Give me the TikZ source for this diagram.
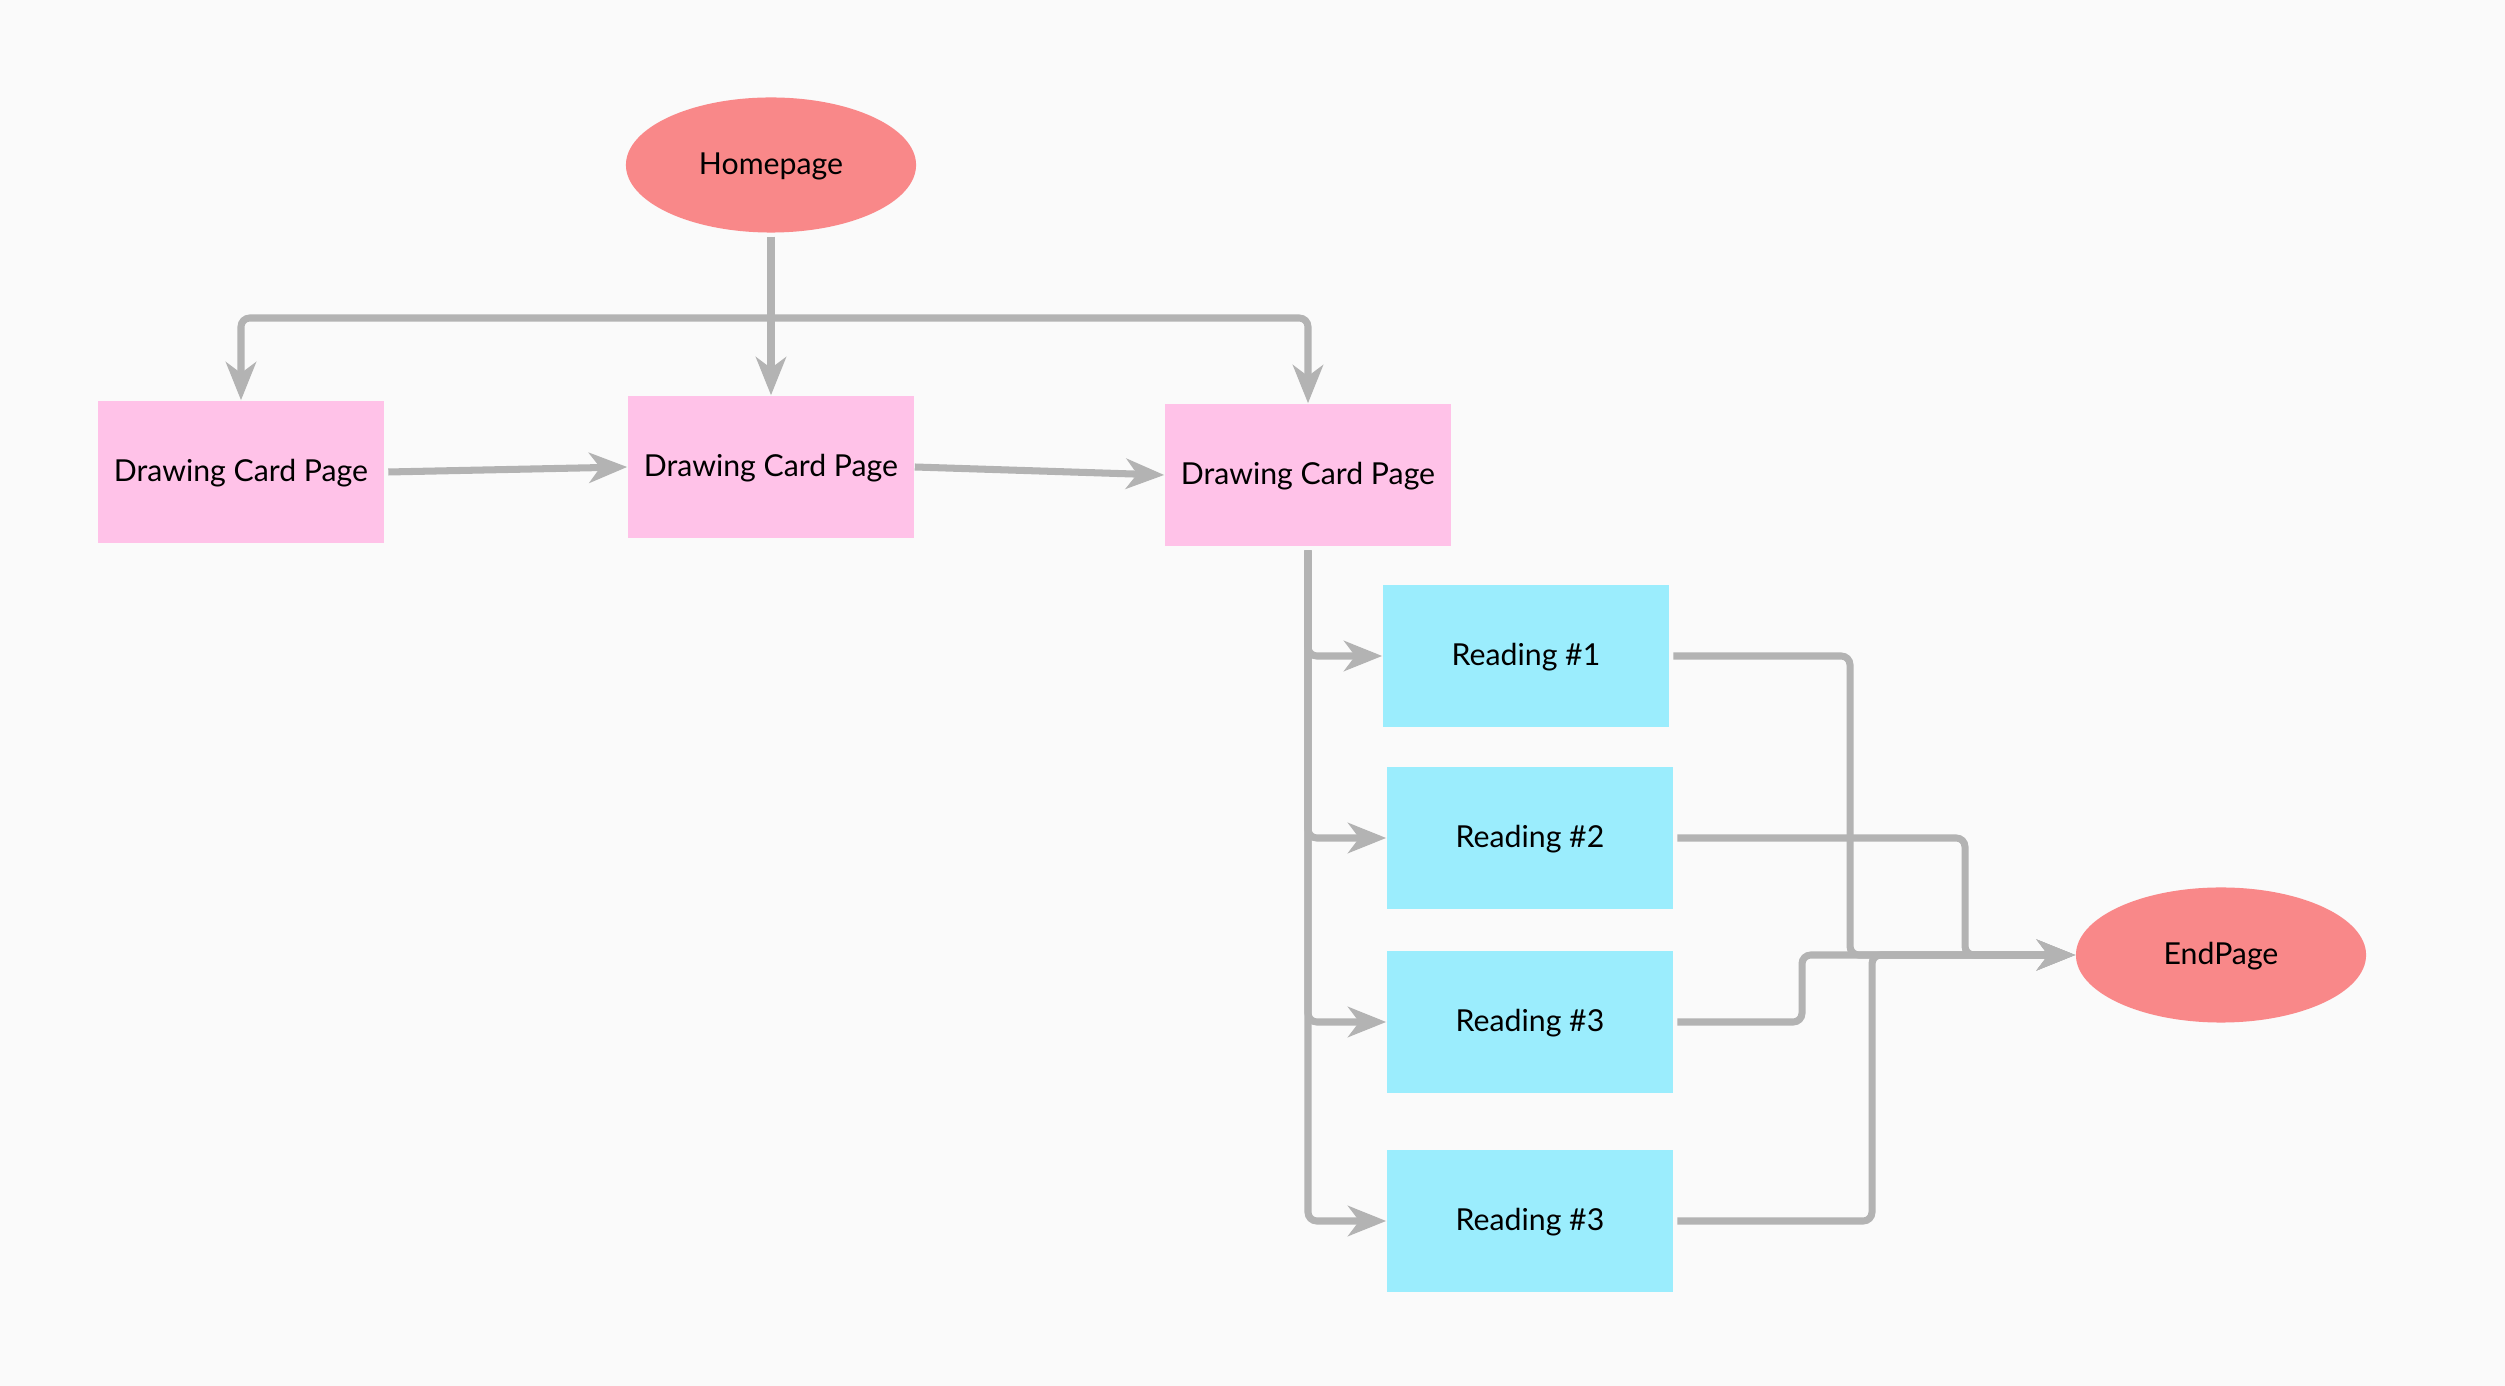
\documentclass[tikz,border=0pt]{standalone}
\usepackage{fontspec}
\setmainfont{Lato}
\usetikzlibrary{arrows.meta,shapes.geometric}

\begin{document}
\begin{tikzpicture}[x=0.01cm, y=-0.01cm,
  font=\fontsize{8.6}{10}\selectfont,
  page/.style={rectangle, fill=cardpink, minimum width=2.86cm, minimum height=1.42cm, inner sep=0pt, text depth=1pt},
  reading/.style={rectangle, fill=readcyan, minimum width=2.86cm, minimum height=1.42cm, inner sep=0pt, text depth=1pt},
  terminal/.style={ellipse, fill=endred, minimum width=2.9cm, minimum height=1.35cm, inner sep=0pt, text depth=1pt},
  flow/.style={draw=linegray, line width=2pt, rounded corners=2.5pt, -{Stealth[length=3.8mm, width=3mm, inset=1.1mm]}},
  link/.style={draw=linegray, line width=2pt, rounded corners=2.5pt}]
\definecolor{bgcol}{HTML}{FAFAFA}
\definecolor{cardpink}{HTML}{FFC2E8}
\definecolor{readcyan}{HTML}{9BEDFD}
\definecolor{endred}{HTML}{F98889}
\definecolor{linegray}{HTML}{B3B3B3}
\fill[bgcol] (0,0) rectangle (2505,1386);
\useasboundingbox (0,0) rectangle (2505,1386);

\node[terminal] (home) at (771,165) {Homepage};
\node[page] (dc1) at (241,472) {Drawing Card Page};
\node[page] (dc2) at (771,467) {Drawing Card Page};
\node[page] (dc3) at (1308,475) {Drawing Card Page};

\node[reading] (rd1) at (1526,656) {Reading \#1};
\node[reading] (rd2) at (1530,838) {Reading \#2};
\node[reading] (rd3) at (1530,1022) {Reading \#3};
\node[reading] (rd4) at (1530,1221) {Reading \#3};

\node[terminal] (endp) at (2221,955) {EndPage};

% homepage to the three card pages
\coordinate (split) at (771,318);
\draw[link] ([yshift=-1pt]home.south) -- (split);
\draw[flow] (split) -- (dc2);
\draw[flow] (split) -| (dc1);
\draw[flow] (split) -| (dc3);

\draw[flow] ([xshift=1pt]dc1.east) -- (dc2.west);
\draw[flow] (dc2.east) -- (dc3.west);

% card page to the readings
\draw[flow] ([yshift=-1pt]dc3.south) |- (rd1.west);
\draw[flow] ([yshift=-1pt]dc3.south) |- (rd2.west);
\draw[flow] ([yshift=-1pt]dc3.south) |- (rd3.west);
\draw[flow] ([yshift=-1pt]dc3.south) |- (rd4.west);

% readings to the end page
\coordinate (m1) at (1850,955);
\coordinate (m2) at (1965,955);
\coordinate (m3) at (1802,955);
\coordinate (m4) at (1872,955);
\draw[flow] ([xshift=1pt]rd1.east) -| (m1) -- (endp);
\draw[flow] ([xshift=1pt]rd2.east) -| (m2) -- (endp);
\draw[flow] ([xshift=1pt]rd3.east) -| (m3) -- (endp);
\draw[flow] ([xshift=1pt]rd4.east) -| (m4) -- (endp);

\end{tikzpicture}
\end{document}
